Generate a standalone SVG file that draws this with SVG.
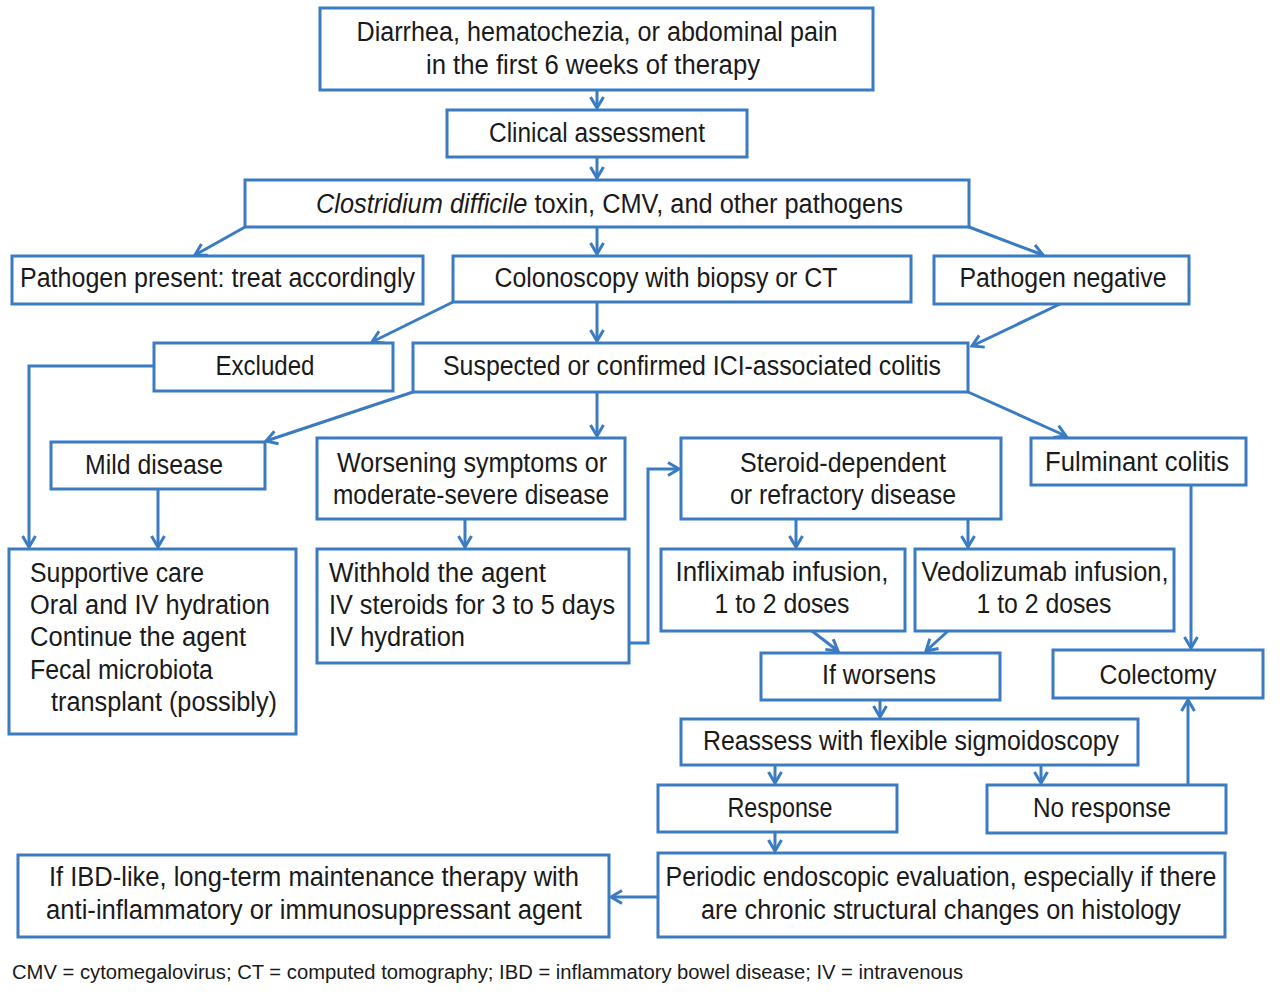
<svg xmlns="http://www.w3.org/2000/svg" width="1280" height="997" viewBox="0 0 1280 997">
<style>
.b{fill:#fff;stroke:#3b7bc2;stroke-width:3}
.c{fill:none;stroke:#3b7bc2;stroke-width:3}
text{font-family:"Liberation Sans",Arial,sans-serif;font-size:27px;fill:#1a1a1a;}
.m{text-anchor:middle}
.f{font-size:20px}
</style>
<defs>
<marker id="a" markerUnits="userSpaceOnUse" markerWidth="18" markerHeight="18" refX="13" refY="8" orient="auto">
<path d="M2,1.5 L13,8 L2,14.5" fill="none" stroke="#3b7bc2" stroke-width="3"/>
</marker>
</defs>
<rect width="1280" height="997" fill="#fff"/>
<g id="connectors" class="c" marker-end="url(#a)">
<path d="M597,90 V108"/>
<path d="M597,157 V178"/>
<path d="M597,227 V254"/>
<path d="M245,227 L195,255"/>
<path d="M969,227 L1043,255"/>
<path d="M453,302 L372,342"/>
<path d="M597,302 V341"/>
<path d="M1060,304 L972,346"/>
<path d="M154,366 H29 V547"/>
<path d="M413,392 L266,441"/>
<path d="M597,392 V436"/>
<path d="M968,392 L1066,436"/>
<path d="M158,489 V547"/>
<path d="M465,519 V547"/>
<path d="M629,643 H648 V469 H679"/>
<path d="M796,519 V547"/>
<path d="M968,519 V547"/>
<path d="M1191,485 V648"/>
<path d="M812,631 L838,651"/>
<path d="M948,631 L926,651"/>
<path d="M880,700 V717"/>
<path d="M775,765 V783"/>
<path d="M1041,765 V783"/>
<path d="M1188,785 V700"/>
<path d="M775,832 V851"/>
<path d="M658,897 H611"/>
</g>
<g id="n1"><rect class="b" x="320" y="8" width="553" height="82"/>
<text class="m" x="597" y="41" textLength="481" lengthAdjust="spacingAndGlyphs">Diarrhea, hematochezia, or abdominal pain</text>
<text class="m" x="593" y="74" textLength="334" lengthAdjust="spacingAndGlyphs">in the first 6 weeks of therapy</text></g>
<g id="n2"><rect class="b" x="447" y="110" width="300" height="47"/>
<text class="m" x="597" y="142" textLength="216" lengthAdjust="spacingAndGlyphs">Clinical assessment</text></g>
<g id="n3"><rect class="b" x="245" y="180" width="724" height="47"/>
<text x="316" y="213" textLength="587" lengthAdjust="spacingAndGlyphs"><tspan font-style="italic">Clostridium difficile</tspan> toxin, CMV, and other pathogens</text></g>
<g id="n4"><rect class="b" x="12" y="256" width="411" height="48"/>
<text x="20" y="287" textLength="395" lengthAdjust="spacingAndGlyphs">Pathogen present: treat accordingly</text></g>
<g id="n5"><rect class="b" x="453" y="256" width="458" height="46"/>
<text class="m" x="666" y="287" textLength="343" lengthAdjust="spacingAndGlyphs">Colonoscopy with biopsy or CT</text></g>
<g id="n6"><rect class="b" x="934" y="256" width="255" height="48"/>
<text class="m" x="1063" y="287" textLength="207" lengthAdjust="spacingAndGlyphs">Pathogen negative</text></g>
<g id="n7"><rect class="b" x="154" y="343" width="239" height="48"/>
<text class="m" x="265" y="375" textLength="99" lengthAdjust="spacingAndGlyphs">Excluded</text></g>
<g id="n8"><rect class="b" x="413" y="343" width="555" height="49"/>
<text class="m" x="692" y="375" textLength="498" lengthAdjust="spacingAndGlyphs">Suspected or confirmed ICI-associated colitis</text></g>
<g id="n9"><rect class="b" x="51" y="442" width="214" height="47"/>
<text class="m" x="154" y="474" textLength="138" lengthAdjust="spacingAndGlyphs">Mild disease</text></g>
<g id="n10"><rect class="b" x="317" y="438" width="308" height="81"/>
<text class="m" x="472" y="472" textLength="270" lengthAdjust="spacingAndGlyphs">Worsening symptoms or</text>
<text class="m" x="471" y="504" textLength="276" lengthAdjust="spacingAndGlyphs">moderate-severe disease</text></g>
<g id="n11"><rect class="b" x="681" y="438" width="320" height="81"/>
<text class="m" x="843" y="472" textLength="206" lengthAdjust="spacingAndGlyphs">Steroid-dependent</text>
<text class="m" x="843" y="504" textLength="226" lengthAdjust="spacingAndGlyphs">or refractory disease</text></g>
<g id="n12"><rect class="b" x="1031" y="438" width="215" height="47"/>
<text class="m" x="1137" y="471" textLength="184" lengthAdjust="spacingAndGlyphs">Fulminant colitis</text></g>
<g id="n13"><rect class="b" x="9" y="549" width="287" height="185"/>
<text x="30" y="582" textLength="174" lengthAdjust="spacingAndGlyphs">Supportive care</text>
<text x="30" y="614" textLength="240" lengthAdjust="spacingAndGlyphs">Oral and IV hydration</text>
<text x="30" y="646" textLength="216" lengthAdjust="spacingAndGlyphs">Continue the agent</text>
<text x="30" y="679" textLength="183" lengthAdjust="spacingAndGlyphs">Fecal microbiota</text>
<text x="51" y="711" textLength="226" lengthAdjust="spacingAndGlyphs">transplant (possibly)</text></g>
<g id="n14"><rect class="b" x="317" y="549" width="312" height="114"/>
<text x="329" y="582" textLength="217" lengthAdjust="spacingAndGlyphs">Withhold the agent</text>
<text x="329" y="614" textLength="286" lengthAdjust="spacingAndGlyphs">IV steroids for 3 to 5 days</text>
<text x="329" y="646" textLength="136" lengthAdjust="spacingAndGlyphs">IV hydration</text></g>
<g id="n15"><rect class="b" x="661" y="549" width="244" height="82"/>
<text class="m" x="782" y="581" textLength="213" lengthAdjust="spacingAndGlyphs">Infliximab infusion,</text>
<text class="m" x="782" y="613" textLength="135" lengthAdjust="spacingAndGlyphs">1 to 2 doses</text></g>
<g id="n16"><rect class="b" x="915" y="549" width="259" height="82"/>
<text class="m" x="1045" y="581" textLength="247" lengthAdjust="spacingAndGlyphs">Vedolizumab infusion,</text>
<text class="m" x="1044" y="613" textLength="135" lengthAdjust="spacingAndGlyphs">1 to 2 doses</text></g>
<g id="n17"><rect class="b" x="761" y="653" width="239" height="47"/>
<text class="m" x="879" y="684" textLength="114" lengthAdjust="spacingAndGlyphs">If worsens</text></g>
<g id="n18"><rect class="b" x="1053" y="650" width="210" height="48"/>
<text class="m" x="1158" y="684" textLength="117" lengthAdjust="spacingAndGlyphs">Colectomy</text></g>
<g id="n19"><rect class="b" x="681" y="719" width="457" height="46"/>
<text class="m" x="911" y="750" textLength="416" lengthAdjust="spacingAndGlyphs">Reassess with flexible sigmoidoscopy</text></g>
<g id="n20"><rect class="b" x="658" y="785" width="239" height="47"/>
<text class="m" x="780" y="817" textLength="105" lengthAdjust="spacingAndGlyphs">Response</text></g>
<g id="n21"><rect class="b" x="987" y="785" width="239" height="48"/>
<text class="m" x="1102" y="817" textLength="138" lengthAdjust="spacingAndGlyphs">No response</text></g>
<g id="n22"><rect class="b" x="658" y="853" width="567" height="84"/>
<text class="m" x="941" y="886" textLength="551" lengthAdjust="spacingAndGlyphs">Periodic endoscopic evaluation, especially if there</text>
<text class="m" x="941" y="919" textLength="480" lengthAdjust="spacingAndGlyphs">are chronic structural changes on histology</text></g>
<g id="n23"><rect class="b" x="18" y="855" width="591" height="82"/>
<text class="m" x="314" y="886" textLength="530" lengthAdjust="spacingAndGlyphs">If IBD-like, long-term maintenance therapy with</text>
<text class="m" x="314" y="919" textLength="536" lengthAdjust="spacingAndGlyphs">anti-inflammatory or immunosuppressant agent</text></g>
<text class="f" x="12" y="979" textLength="951" lengthAdjust="spacingAndGlyphs">CMV = cytomegalovirus; CT = computed tomography; IBD = inflammatory bowel disease; IV = intravenous</text>
</svg>
